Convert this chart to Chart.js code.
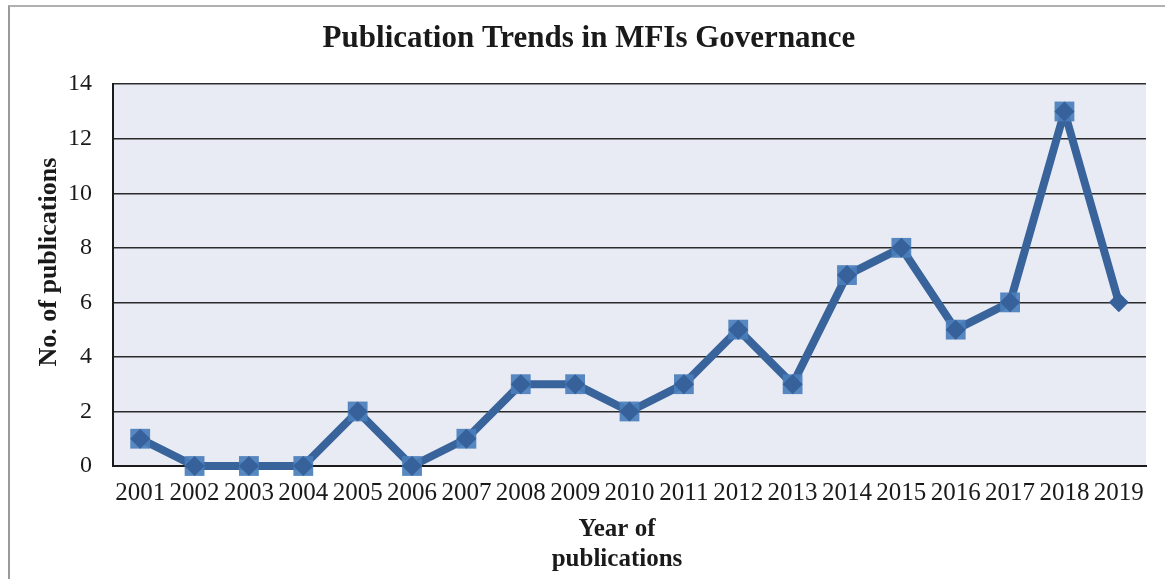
<!DOCTYPE html>
<html>
<head>
<meta charset="utf-8">
<script src="https://cdn.jsdelivr.net/npm/chart.js@4.4.1/dist/chart.umd.min.js"></script>
<style>
  html, body { margin: 0; padding: 0; background: #fff; }
  #wrap { position: relative; width: 1165px; height: 579px; overflow: hidden; }
  #frame { position: absolute; left: 8px; top: 5px; width: 1200px; height: 620px;
           border-left: 2px solid #9a9a9a; border-top: 2px solid #b0b0b0; box-sizing: border-box; }
  canvas { position: absolute; left: 0; top: 0; }
</style>
</head>
<body>
<div id="wrap">
  <div id="frame"></div>
  <canvas id="c" width="1165" height="579"></canvas>
</div>
<script>
const years = ["2001","2002","2003","2004","2005","2006","2007","2008","2009","2010",
               "2011","2012","2013","2014","2015","2016","2017","2018","2019"];
const publications = [1,0,0,0,2,0,1,3,3,2,3,5,3,7,8,5,6,13,6];
const yTicks = [0,2,4,6,8,10,12,14];
const chartTitle = "Publication Trends in MFIs Governance";
const yTitle = "    No. of publications";
const xTitle = ["Year of    ", "publications    "];

const squareRadius = publications.map((v, i) => i === publications.length - 1 ? 0 : 14);

const bgPlugin = {
  id: 'plotBg',
  beforeDraw(chart) {
    const {ctx, chartArea: a} = chart;
    ctx.save();
    ctx.fillStyle = '#e8ebf4';
    ctx.fillRect(a.left, a.top, a.right - a.left, a.bottom - a.top);
    ctx.restore();
  }
};

Chart.defaults.font.family = '"Liberation Serif", "Times New Roman", serif';
Chart.defaults.color = '#222';

new Chart(document.getElementById('c'), {
  type: 'line',
  data: {
    labels: years,
    datasets: [
      {
        data: publications,
        showLine: false,
        clip: false,
        pointStyle: 'rectRot',
        pointRadius: 10,
        pointBackgroundColor: '#36619a',
        pointBorderWidth: 0,
        pointBorderColor: 'transparent'
      },
      {
        data: publications,
        clip: false,
        borderColor: '#38639b',
        borderWidth: 8,
        borderJoinStyle: 'bevel',
        tension: 0,
        pointStyle: 'rect',
        pointRadius: squareRadius,
        pointBackgroundColor: 'rgba(74,126,187,0.92)',
        pointBorderWidth: 0,
        pointBorderColor: 'transparent'
      }
    ]
  },
  options: {
    responsive: false,
    animation: false,
    devicePixelRatio: 1,
    layout: { padding: { top: 0, right: 19, bottom: 0, left: 32 } },
    plugins: {
      legend: { display: false },
      tooltip: { enabled: false },
      title: {
        display: true,
        text: chartTitle,
        color: '#1a1a1a',
        font: { size: 31, weight: 'bold', lineHeight: 1.2 },
        padding: { top: 20, bottom: 27 }
      }
    },
    scales: {
      x: {
        offset: true,
        grid: { display: false, drawTicks: false },
        border: { display: true, color: '#1a1a1a', width: 2 },
        ticks: { font: { size: 25 }, color: '#1a1a1a', padding: 12, maxRotation: 0, autoSkip: false },
        title: {
          display: true,
          text: xTitle,
          color: '#1a1a1a',
          font: { size: 25, weight: 'bold', lineHeight: 1.2 },
          padding: { top: 4, bottom: 4 }
        },
        afterFit(scale) { scale.height = 113; }
      },
      y: {
        min: 0,
        max: 14,
        afterBuildTicks(scale) { scale.ticks = yTicks.map(v => ({ value: v })); },
        grid: { color: '#2a2a2a', lineWidth: 1.5, drawTicks: false },
        border: { display: true, color: '#1a1a1a', width: 2 },
        ticks: { font: { size: 24 }, color: '#1a1a1a', padding: 21 },
        title: {
          display: true,
          text: yTitle,
          color: '#1a1a1a',
          font: { size: 26, weight: 'bold', lineHeight: 1.2 },
          padding: { top: 2, bottom: 0 }
        },
        afterFit(scale) { scale.width = 81; }
      }
    }
  },
  plugins: [bgPlugin]
});
</script>
</body>
</html>
